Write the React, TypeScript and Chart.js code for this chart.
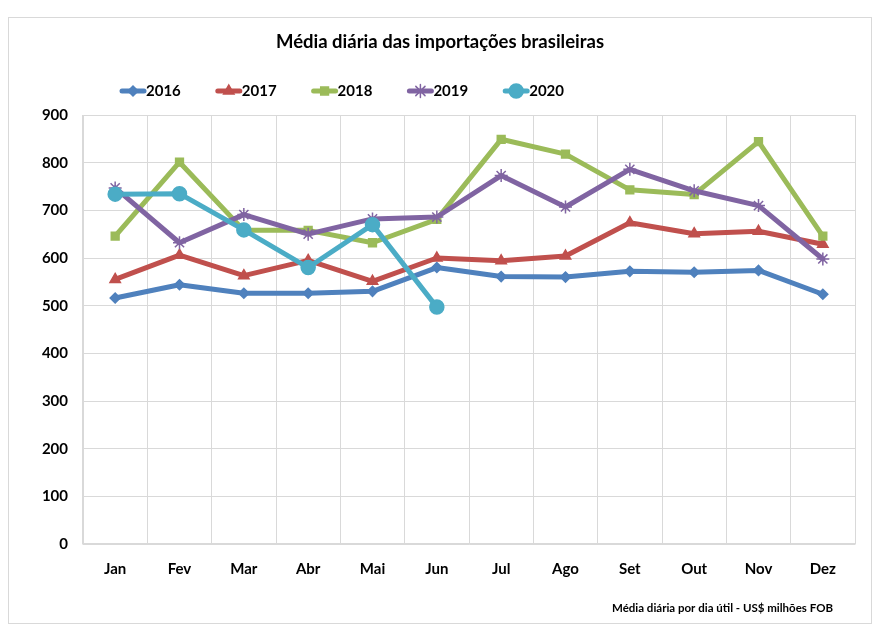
import React, { useEffect, useRef } from "react";
import { Chart, registerables } from "chart.js";
import { drawPoint } from "chart.js/helpers";

Chart.register(...registerables);

// Months of the year (Portuguese abbreviations)
const MONTHS = ["Jan", "Fev", "Mar", "Abr", "Mai", "Jun", "Jul", "Ago", "Set", "Out", "Nov", "Dez"];

// Daily average of imports, US$ millions FOB
const Y2016 = [516, 544, 526, 526, 530, 580, 561, 560, 572, 570, 574, 524];
const Y2017 = [555, 606, 563, 595, 551, 600, 594, 604, 674, 651, 656, 629];
const Y2018 = [646, 801, 658, 658, 632, 681, 849, 818, 743, 733, 844, 646];
const Y2019 = [747, 632, 691, 650, 682, 686, 773, 707, 786, 741, 710, 598];
const Y2020 = [734, 735, 659, 580, 670, 497];

const YEARS = ["2016", "2017", "2018", "2019", "2020"];
const VALUES = [Y2016, Y2017, Y2018, Y2019, Y2020];
const COLORS = ["#4F81BD", "#C0504D", "#9BBB59", "#8064A2", "#4BACC6"];
const MARKERS = ["rectRot", "triangle", "rect", "star", "circle"];
const MARKER_RADII = [5, 6, 5.5, 6.5, 7];

const Y_MIN = 0;
const Y_MAX = 900;
const Y_STEP = 100;

const TITLE = "Média diária das importações brasileiras";
const CAPTION = "Média diária por dia útil - US$ milhões FOB";

const FONT = "Lato, 'DejaVu Sans', sans-serif";
const GRID = "#d9d9d9";

const W = 862;
const H = 605;

// Title, legend and footnote drawn directly on the canvas
const decorPlugin = {
  id: "decor",
  afterDraw(chart: any) {
    const ctx = chart.ctx as CanvasRenderingContext2D;
    ctx.save();
    // title
    ctx.fillStyle = "#000";
    ctx.font = `bold 18.5px ${FONT}`;
    ctx.textAlign = "center";
    ctx.textBaseline = "middle";
    ctx.fillText(TITLE, W / 2, 24);

    // legend
    const legendY = 73;
    const startX = 111;
    const spacing = 95.8;
    const sampleW = 26;
    chart.data.datasets.forEach((ds: any, i: number) => {
      const x0 = startX + i * spacing;
      ctx.strokeStyle = ds.borderColor;
      ctx.fillStyle = ds.borderColor;
      ctx.lineWidth = 5;
      ctx.lineCap = "round";
      ctx.beginPath();
      ctx.moveTo(x0 + 2, legendY);
      ctx.lineTo(x0 + sampleW - 2, legendY);
      ctx.stroke();
      ctx.lineWidth = 1.5;
      drawPoint(
        ctx,
        { pointStyle: ds.pointStyle, radius: ds.pointRadius, rotation: 0, borderWidth: 1.5 } as any,
        x0 + sampleW / 2,
        legendY
      );
      ctx.fillStyle = "#000";
      ctx.font = `bold 15px ${FONT}`;
      ctx.textAlign = "left";
      ctx.textBaseline = "middle";
      ctx.fillText(ds.label, x0 + sampleW, legendY);
    });

    // footnote
    ctx.font = `bold 11.5px ${FONT}`;
    ctx.textAlign = "right";
    ctx.fillStyle = "#000";
    ctx.fillText(CAPTION, 824, 590);
    ctx.restore();
  },
};

export default function App() {
  const canvasRef = useRef<HTMLCanvasElement | null>(null);

  useEffect(() => {
    if (!canvasRef.current) return;
    const tickFont = { family: FONT, size: 15, weight: "bold" as const };
    const chart = new Chart(canvasRef.current, {
      type: "line",
      data: {
        labels: MONTHS,
        datasets: YEARS.map((year, i) => ({
          label: year,
          data: VALUES[i],
          borderColor: COLORS[i],
          backgroundColor: COLORS[i],
          pointBackgroundColor: COLORS[i],
          pointBorderColor: COLORS[i],
          pointStyle: MARKERS[i] as any,
          pointRadius: MARKER_RADII[i],
          pointBorderWidth: 1.5,
          borderWidth: 5,
          borderJoinStyle: "round" as const,
          borderCapStyle: "round" as const,
          tension: 0,
          fill: false,
          order: YEARS.length - i,
        })),
      },
      options: {
        responsive: false,
        animation: false,
        layout: { padding: { top: 97, right: 16, left: 0, bottom: 0 } },
        plugins: {
          legend: { display: false },
          title: { display: false },
          tooltip: { enabled: false },
        },
        scales: {
          x: {
            offset: true,
            grid: { offset: true, color: GRID, lineWidth: 1, drawTicks: false },
            border: { color: GRID, width: 1.5 },
            ticks: { padding: 16, color: "#000", font: tickFont },
            afterFit: (s: any) => {
              s.height = 79;
            },
          },
          y: {
            min: Y_MIN,
            max: Y_MAX,
            grid: { color: GRID, lineWidth: 1, drawTicks: false },
            border: { color: GRID, width: 1 },
            ticks: { stepSize: Y_STEP, padding: 15, color: "#000", font: tickFont },
            afterFit: (s: any) => {
              s.width = 74;
            },
          },
        },
      },
      plugins: [decorPlugin],
    });
    return () => chart.destroy();
  }, []);

  return (
    <div style={{ paddingTop: 9 }}>
      <div
        style={{
          width: 864,
          height: 607,
          boxSizing: "border-box",
          border: `1px solid ${GRID}`,
          background: "#fff",
        }}
      >
        <canvas ref={canvasRef} width={W} height={H} style={{ display: "block", width: W, height: H }} />
      </div>
    </div>
  );
}
